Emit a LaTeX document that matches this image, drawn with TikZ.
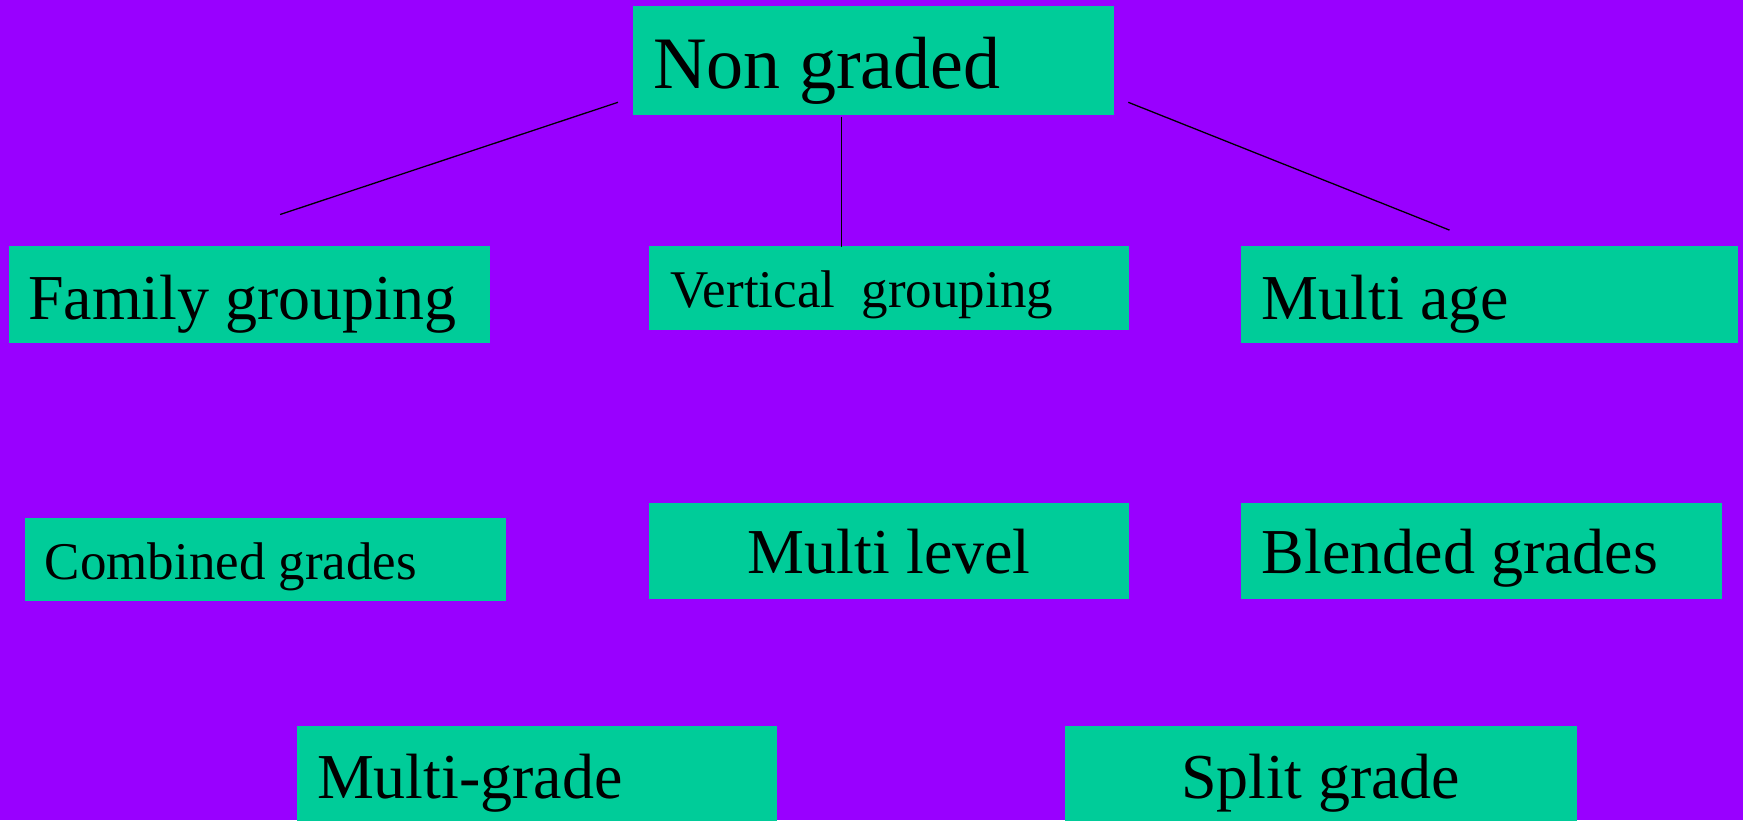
\documentclass[tikz,border=0pt]{standalone}
\usepackage{fontspec}
\setmainfont{Liberation Serif}
\definecolor{bgpurple}{HTML}{9900FF}
\definecolor{boxgreen}{HTML}{00CC99}
\tikzset{
  box/.style={fill=boxgreen, draw=none, inner sep=0pt, anchor=north west},
  lbl/.style={anchor=base west, inner sep=0pt, text=black},
  lblc/.style={anchor=base, inner sep=0pt, text=black},
  conn/.style={draw=black, line width=1.3pt}
}
\newcommand{\fbig}{\fontsize{74}{80}\selectfont}
\newcommand{\fmid}{\fontsize{64}{70}\selectfont}
\newcommand{\fsmall}{\fontsize{53}{60}\selectfont}
\begin{document}
\begin{tikzpicture}[x=1pt,y=-1pt]
\useasboundingbox (0,0) rectangle (1743,820);
\fill[bgpurple] (0,0) rectangle (1743,820);
% boxes
\node[box, minimum width=481pt, minimum height=109pt] (ng) at (632.5,5.6) {};
\node[box, minimum width=481pt, minimum height=97pt] (fg) at (8.9,245.7) {};
\node[box, minimum width=480pt, minimum height=84pt] (vg) at (649.2,245.7) {};
\node[box, minimum width=497pt, minimum height=97pt] (ma) at (1240.5,245.7) {};
\node[box, minimum width=481pt, minimum height=83pt] (cg) at (24.5,518) {};
\node[box, minimum width=480pt, minimum height=96pt] (ml) at (649.2,502.4) {};
\node[box, minimum width=481pt, minimum height=96pt] (bg) at (1240.5,502.4) {};
\node[box, minimum width=480pt, minimum height=96pt] (mg) at (296.8,725.9) {};
\node[box, minimum width=512pt, minimum height=96pt] (sg) at (1064.9,725.9) {};
% labels
\node[lbl, font=\fbig] (ngt) at (653,88.5) {Non graded};
\node[lbl, font=\fmid] (fgt) at (27.8,319) {Family grouping};
\node[lbl, font=\fsmall] (vgt) at (670.3,307.9) {Vertical\ \ grouping};
\node[lbl, font=\fmid] (mat) at (1261.7,319) {Multi age};
\node[lbl, font=\fsmall] (cgt) at (44.5,579.5) {Combined grades};
\node[lblc, font=\fmid] (mlt) at (889.3,573.5) {Multi level};
\node[lbl, font=\fmid] (bgt) at (1261.7,573.5) {Blended grades};
\node[lbl, font=\fmid] (mgt) at (316.8,798) {Multi-grade};
\node[lblc, font=\fmid] (sgt) at (1320.6,798) {Split grade};
% connectors
\coordinate (c1a) at (618,102.3);
\coordinate (c1b) at (280.1,214.5);
\coordinate (c2a) at (841.5,116.7);
\coordinate (c2b) at (841.5,246.8);
\coordinate (c3a) at (1128.3,102.3);
\coordinate (c3b) at (1449.5,230.1);
\draw[conn] (c1a) -- (c1b);
\draw[conn] (c2a) -- (c2b);
\draw[conn] (c3a) -- (c3b);
\end{tikzpicture}
\end{document}
